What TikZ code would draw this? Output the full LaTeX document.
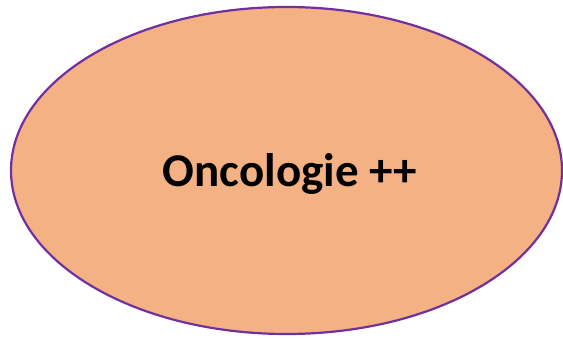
\documentclass[tikz,border=0pt]{standalone}
\usepackage{fontspec}
\setmainfont{Carlito}
\usetikzlibrary{shapes.geometric}
\definecolor{peach}{HTML}{F4B183}
\definecolor{violetline}{HTML}{7030A0}
\tikzset{
  bubble/.style={ellipse,draw=violetline,fill=peach,line width=2.2pt,
    minimum width=551pt,minimum height=327pt,inner sep=0pt},
  bubbletext/.style={font=\fontsize{47}{56}\selectfont\bfseries,inner sep=0pt}
}
\begin{document}
\begin{tikzpicture}[x=1pt,y=-1pt]
  \useasboundingbox (0,0) rectangle (563,338);
  % the ellipse
  \node[bubble] (onco) at (286.5,170.5) {};
  \node[bubbletext,anchor=base] (ontext) at (290,186) {Oncologie ++};
\end{tikzpicture}
\end{document}
